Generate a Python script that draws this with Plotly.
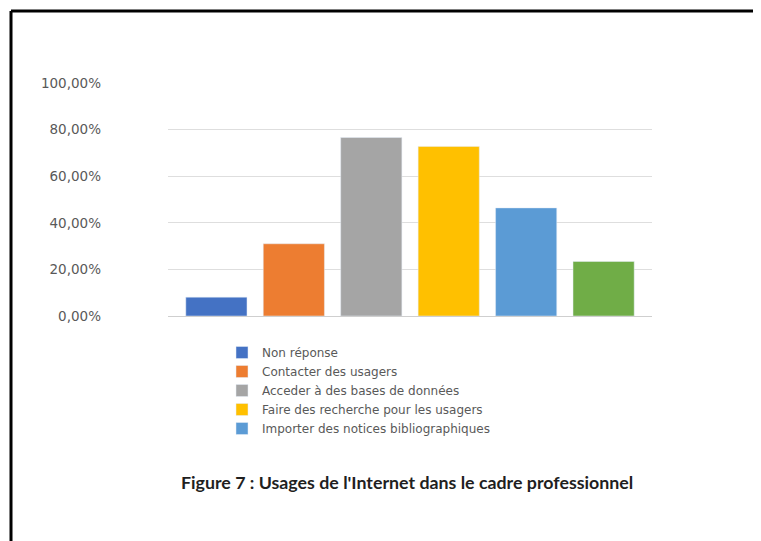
import plotly.graph_objects as go

categories = ["Non réponse", "Contacter des usagers", "Acceder à des bases de données",
              "Faire des recherche pour les usagers", "Importer des notices bibliographiques", "Autres"]
values = [0.081, 0.31, 0.766, 0.728, 0.464, 0.234]
colors = ["#4472C4", "#ED7D31", "#A5A5A5", "#FFC000", "#5B9BD5", "#70AD47"]
show_in_legend = [True, True, True, True, True, False]
tick_vals = [0, 0.2, 0.4, 0.6, 0.8, 1.0]
tick_text = ["0,00%", "20,00%", "40,00%", "60,00%", "80,00%", "100,00%"]
caption = "Figure 7 : Usages de l'Internet dans le cadre professionnel"

W, H = 761, 541
OFF = 8  # page body margin
L, T = 160, 75
pw, ph = 484, 233
R = W - L - pw
B = H - T - ph

def px(x):
    return (x - OFF - L) / pw

def py(y):
    return (H - B - (y - OFF)) / ph

fig = go.Figure()
for c, v, col, sl in zip(categories, values, colors, show_in_legend):
    fig.add_trace(go.Bar(x=[c], y=[v], name=c, marker_color=col, showlegend=sl,
                         width=0.79))

fig.update_layout(
    width=W, height=H,
    margin=dict(l=L, r=R, t=T, b=B),
    paper_bgcolor="white", plot_bgcolor="white",
    barmode="overlay",
    font=dict(family="DejaVu Sans, sans-serif", color="#595959"),
    xaxis=dict(showticklabels=False, showgrid=False, zeroline=False, showline=False,
               categoryorder="array", categoryarray=categories,
               range=[-0.625, 5.625]),
    yaxis=dict(range=[0, 1.0], tickvals=tick_vals, ticktext=tick_text,
               showgrid=True, gridcolor="#DEDEDE", gridwidth=1,
               zeroline=True, zerolinecolor="#CFCFCF", zerolinewidth=1,
               showline=False, ticks="", ticklabelstandoff=66,
               tickfont=dict(family="DejaVu Sans, sans-serif", size=13.5, color="#595959")),
    legend=dict(orientation="v", x=px(222), xanchor="left", y=py(338), yanchor="top",
                font=dict(family="DejaVu Sans, sans-serif", size=12, color="#595959"),
                bgcolor="rgba(0,0,0,0)", itemwidth=30, tracegroupgap=0),
    annotations=[dict(text="<b>" + caption + "</b>", xref="paper", yref="paper",
                      x=px(407), y=py(482), xanchor="center", yanchor="middle",
                      showarrow=False,
                      font=dict(family="Lato, sans-serif", size=17.8, color="#1F1F1F"))],
    shapes=[
        dict(type="line", xref="paper", yref="paper", x0=px(11), x1=px(800),
             y0=py(11), y1=py(11), line=dict(color="black", width=3)),
        dict(type="line", xref="paper", yref="paper", x0=px(11), x1=px(11),
             y0=py(11), y1=py(560), line=dict(color="black", width=3)),
    ],
)

fig.write_html("out.html")
